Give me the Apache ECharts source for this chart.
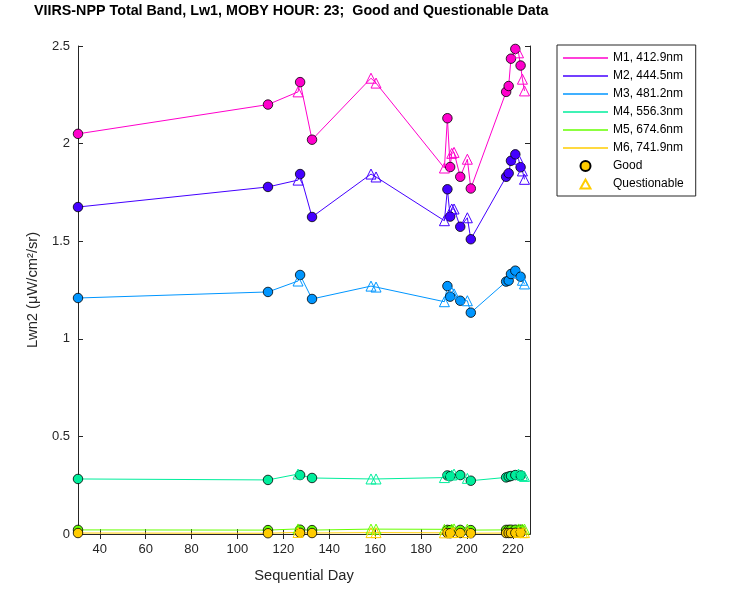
<!DOCTYPE html>
<html><head><meta charset="utf-8">
<script src="https://cdn.jsdelivr.net/npm/echarts@6/dist/echarts.min.js"></script>
<style>html,body{margin:0;padding:0;background:#fff}#c{width:750px;height:600px}</style>
</head><body><div id="c"></div>
<script>
const days = [30.5, 113.3, 126.4, 127.3, 132.5, 158.2, 160.4, 190.2, 191.5, 192.7, 193.4, 194.4, 197.1, 200.2, 201.7, 217.1, 218.2, 219.2, 221.1, 222.5, 223.4, 224.2, 225.1];
const quality = ['G','G','Q','G','G','Q','Q','Q','G','G','Q','Q','G','Q','G','G','G','G','G','Q','G','Q','Q'];
const bandNames = ['M1, 412.9nm','M2, 444.5nm','M3, 481.2nm','M4, 556.3nm','M5, 674.6nm','M6, 741.9nm'];
const bandColors = ['#FF00CC','#4400FF','#0096FF','#00EE9C','#66FF00','#FFCC00'];
const m1 = [2.05, 2.20, 2.265, 2.315, 2.02, 2.335, 2.31, 1.875, 2.13, 1.88, 1.95, 1.955, 1.83, 1.92, 1.77, 2.265, 2.295, 2.435, 2.485, 2.465, 2.40, 2.33, 2.27];
const m2 = [1.675, 1.778, 1.813, 1.844, 1.624, 1.844, 1.829, 1.605, 1.766, 1.626, 1.665, 1.665, 1.574, 1.62, 1.51, 1.83, 1.848, 1.912, 1.945, 1.92, 1.879, 1.86, 1.817];
const m3 = [1.209, 1.24, 1.296, 1.327, 1.204, 1.27, 1.265, 1.19, 1.27, 1.216, 1.238, 1.23, 1.195, 1.195, 1.134, 1.293, 1.298, 1.332, 1.349, 1.336, 1.318, 1.30, 1.281];
const m4 = [0.282, 0.277, 0.307, 0.302, 0.287, 0.282, 0.282, 0.289, 0.300, 0.296, 0.302, 0.307, 0.302, 0.285, 0.273, 0.29, 0.294, 0.297, 0.302, 0.307, 0.30, 0.30, 0.295];
const m5 = [0.021, 0.020, 0.026, 0.022, 0.020, 0.025, 0.025, 0.024, 0.021, 0.020, 0.025, 0.026, 0.021, 0.025, 0.020, 0.021, 0.021, 0.022, 0.022, 0.026, 0.022, 0.025, 0.025];
const m6 = [0.005, 0.004, 0.008, 0.006, 0.005, 0.007, 0.007, 0.006, 0.005, 0.004, 0.007, 0.008, 0.005, 0.007, 0.004, 0.005, 0.005, 0.005, 0.006, 0.008, 0.006, 0.007, 0.007];
const xTicks = [40, 60, 80, 100, 120, 140, 160, 180, 200, 220];
const yTicks = [0, 0.5, 1, 1.5, 2, 2.5];

const bands = [m1, m2, m3, m4, m5, m6];
const FONT = '"Liberation Sans", Arial, sans-serif';
const AX = '#262626';
const LINE_ICON = 'path://M0,0L0,0M0,4.3L45,4.3L45,5.7L0,5.7ZM45,10L45,10';
const TRI_ICON = 'path://M0,0L0,0M17.5,9.5L22.5,0.5L27.5,9.5ZM45,10L45,10';
const series = [];
bands.forEach((vals, i) => {
  const col = bandColors[i];
  const last = i === bands.length - 1;
  series.push({
    type: 'line', name: bandNames[i], symbol: 'none', color: col,
    itemStyle: { color: col, borderWidth: 0 },
    lineStyle: { width: 1, color: col }, z: 2, animation: false,
    data: days.map((d, k) => [d, vals[k]])
  });
  series.push({
    type: 'scatter', name: last ? 'Good' : bandNames[i] + ' good', symbol: 'circle', symbolSize: 9.5,
    itemStyle: { color: col, borderColor: '#000', borderWidth: 0.8, opacity: 1 }, z: 3, animation: false,
    data: days.map((d, k) => [d, vals[k]]).filter((p, k) => quality[k] === 'G')
  });
  series.push({
    type: 'scatter', name: last ? 'Questionable' : bandNames[i] + ' q', symbol: 'triangle', symbolSize: 10,
    itemStyle: { color: 'rgba(255,255,255,0)', borderColor: col, borderWidth: 1, opacity: 1 }, z: 3, animation: false,
    data: days.map((d, k) => [d, vals[k]]).filter((p, k) => quality[k] === 'Q')
  });
});

const chart = echarts.init(document.getElementById('c'), null, { renderer: 'canvas' });
const xBase = {
  type: 'value', min: 30.5, max: 227.5,
  axisLine: { show: true, lineStyle: { color: AX, width: 1 } },
  axisTick: { show: true, inside: true, length: 5, customValues: xTicks, lineStyle: { color: AX } },
  splitLine: { show: false }
};
const yBase = {
  type: 'value', min: 0, max: 2.5, interval: 0.5,
  axisLine: { show: true, lineStyle: { color: AX, width: 1 } },
  axisTick: { show: true, inside: true, length: 5, lineStyle: { color: AX } },
  splitLine: { show: false }
};
const legendData = bandNames.map(n => ({ name: n, icon: LINE_ICON }))
  .concat([{ name: 'Good', icon: 'circle' }, { name: 'Questionable', icon: TRI_ICON }]);
chart.setOption({
  animation: false,
  backgroundColor: '#fff',
  textStyle: { fontFamily: FONT },
  title: {
    text: 'VIIRS-NPP Total Band, Lw1, MOBY HOUR: 23;  Good and Questionable Data',
    left: 34, top: 4, padding: 0,
    textStyle: { fontSize: 14.3, fontWeight: 'bold', color: '#000', fontFamily: FONT }
  },
  grid: { left: 78, right: 220, top: 46, bottom: 66 },
  legend: {
    orient: 'vertical', left: 557, top: 45,
    padding: [7, 12, 6, 5], itemWidth: 45, itemHeight: 10, itemGap: 6,
    borderColor: AX, borderWidth: 1, backgroundColor: '#fff',
    textStyle: { fontSize: 12, color: '#000', fontFamily: FONT },
    data: legendData
  },
  xAxis: [
    Object.assign({}, xBase, {
      position: 'bottom',
      name: 'Sequential Day', nameLocation: 'middle', nameGap: 34,
      nameTextStyle: { fontSize: 14.7, color: AX, fontFamily: FONT },
      axisLabel: { show: true, customValues: xTicks, fontSize: 13, color: AX, margin: 9, fontFamily: FONT }
    }),
    Object.assign({}, xBase, { position: 'top', axisLabel: { show: false } })
  ],
  yAxis: [
    Object.assign({}, yBase, {
      position: 'left',
      name: 'Lwn2 (μW/cm²/sr)', nameLocation: 'middle', nameGap: 38,
      nameTextStyle: { fontSize: 14.7, color: AX, fontFamily: FONT },
      axisLabel: { show: true, fontSize: 13, color: AX, margin: 8, fontFamily: FONT,
        formatter: v => yTicks.indexOf(v) >= 0 ? String(v) : '' }
    }),
    Object.assign({}, yBase, { position: 'right', axisLabel: { show: false } })
  ],
  series: series
});
</script>
</body></html>
